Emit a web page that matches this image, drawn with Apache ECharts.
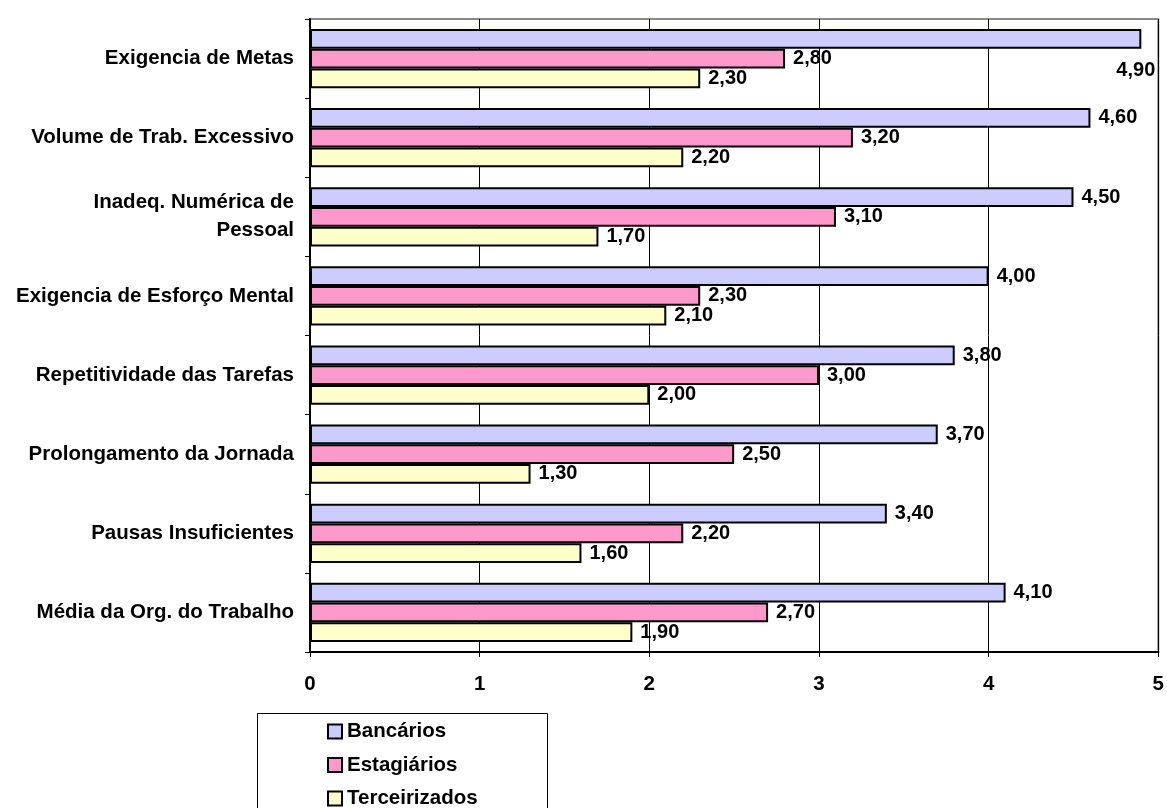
<!DOCTYPE html>
<html>
<head>
<meta charset="utf-8">
<script src="https://cdn.jsdelivr.net/npm/echarts@6/dist/echarts.min.js"></script>
<style>
  html, body { margin: 0; padding: 0; background: #fff; }
  #chart { width: 1167px; height: 808px; }
</style>
</head>
<body>
<div id="chart"></div>
<script>
// Categories, top to bottom
const categories = [
  'Exigencia de Metas',
  'Volume de Trab. Excessivo',
  'Inadeq. Numérica de\nPessoal',
  'Exigencia de Esforço Mental',
  'Repetitividade das Tarefas',
  'Prolongamento da Jornada',
  'Pausas Insuficientes',
  'Média da Org. do Trabalho'
];
const seriesNames = ['Bancários', 'Estagiários', 'Terceirizados'];
const bancarios     = [4.9, 4.6, 4.5, 4.0, 3.8, 3.7, 3.4, 4.1];
const estagiarios   = [2.8, 3.2, 3.1, 2.3, 3.0, 2.5, 2.2, 2.7];
const terceirizados = [2.3, 2.2, 1.7, 2.1, 2.0, 1.3, 1.6, 1.9];
const xTicks = [0, 1, 2, 3, 4, 5];

const colors = ['#CCCCFF', '#FF99CC', '#FFFFCC'];
const FONT = 'Liberation Sans, Arial, sans-serif';
const FS = 20.5;

const fmt = v => v.toFixed(2).replace('.', ',');

function makeSeries(name, values, color) {
  return {
    name: name,
    type: 'bar',
    barGap: '0%',
    barCategoryGap: '25%',
    data: values.map(v => ({ value: v })),
    itemStyle: { color: color, borderColor: '#000', borderWidth: 2 },
    label: {
      show: true,
      position: 'right',
      distance: 8,
      color: '#000',
      fontFamily: FONT,
      fontWeight: 'bold',
      fontSize: 20,
      formatter: p => fmt(p.value)
    }
  };
}

const series = [
  makeSeries(seriesNames[0], bancarios, colors[0]),
  makeSeries(seriesNames[1], estagiarios, colors[1]),
  makeSeries(seriesNames[2], terceirizados, colors[2])
];
// The longest bar reaches the frame, so its label sits just under its end
series[0].data[0].label = { offset: [-33, 32] };

const chart = echarts.init(document.getElementById('chart'), null, { renderer: 'canvas' });
chart.setOption({
  animation: false,
  backgroundColor: '#fff',
  textStyle: { fontFamily: FONT },
  grid: {
    left: 310, right: 7, top: 19, bottom: 156,
    show: true, borderColor: '#888', borderWidth: 2, backgroundColor: 'transparent'
  },
  // Frame round the legend
  graphic: [{
    type: 'rect',
    shape: { x: 257.5, y: 713.5, width: 290, height: 120 },
    style: { fill: '#fff', stroke: '#000', lineWidth: 1 },
    z: 0
  }],
  legend: {
    orient: 'vertical',
    left: 327, top: 721,
    width: 200, height: 140,
    padding: 0,
    itemGap: 12.5,
    itemWidth: 14, itemHeight: 14,
    icon: 'rect',
    itemStyle: { borderColor: '#000', borderWidth: 2 },
    textStyle: { fontFamily: FONT, fontWeight: 'bold', fontSize: FS, color: '#000', lineHeight: 20 },
    data: seriesNames,
    z: 5
  },
  xAxis: {
    type: 'value',
    min: xTicks[0], max: xTicks[xTicks.length - 1], interval: 1,
    axisLine: { show: true, lineStyle: { color: '#000', width: 2 } },
    axisTick: { show: true, length: 5, lineStyle: { color: '#000', width: 1 } },
    splitLine: { show: true, lineStyle: { color: '#000', width: 1 } },
    axisLabel: { color: '#000', fontFamily: FONT, fontWeight: 'bold', fontSize: FS, margin: 22 }
  },
  yAxis: {
    type: 'category',
    inverse: true,
    data: categories,
    axisLine: { show: true, lineStyle: { color: '#000', width: 2 } },
    axisTick: { show: true, length: 5, inside: false, lineStyle: { color: '#000', width: 1 } },
    axisLabel: {
      color: '#000', fontFamily: FONT, fontWeight: 'bold', fontSize: FS,
      margin: 16, align: 'right', lineHeight: 28
    }
  },
  series: series
});
</script>
</body>
</html>
